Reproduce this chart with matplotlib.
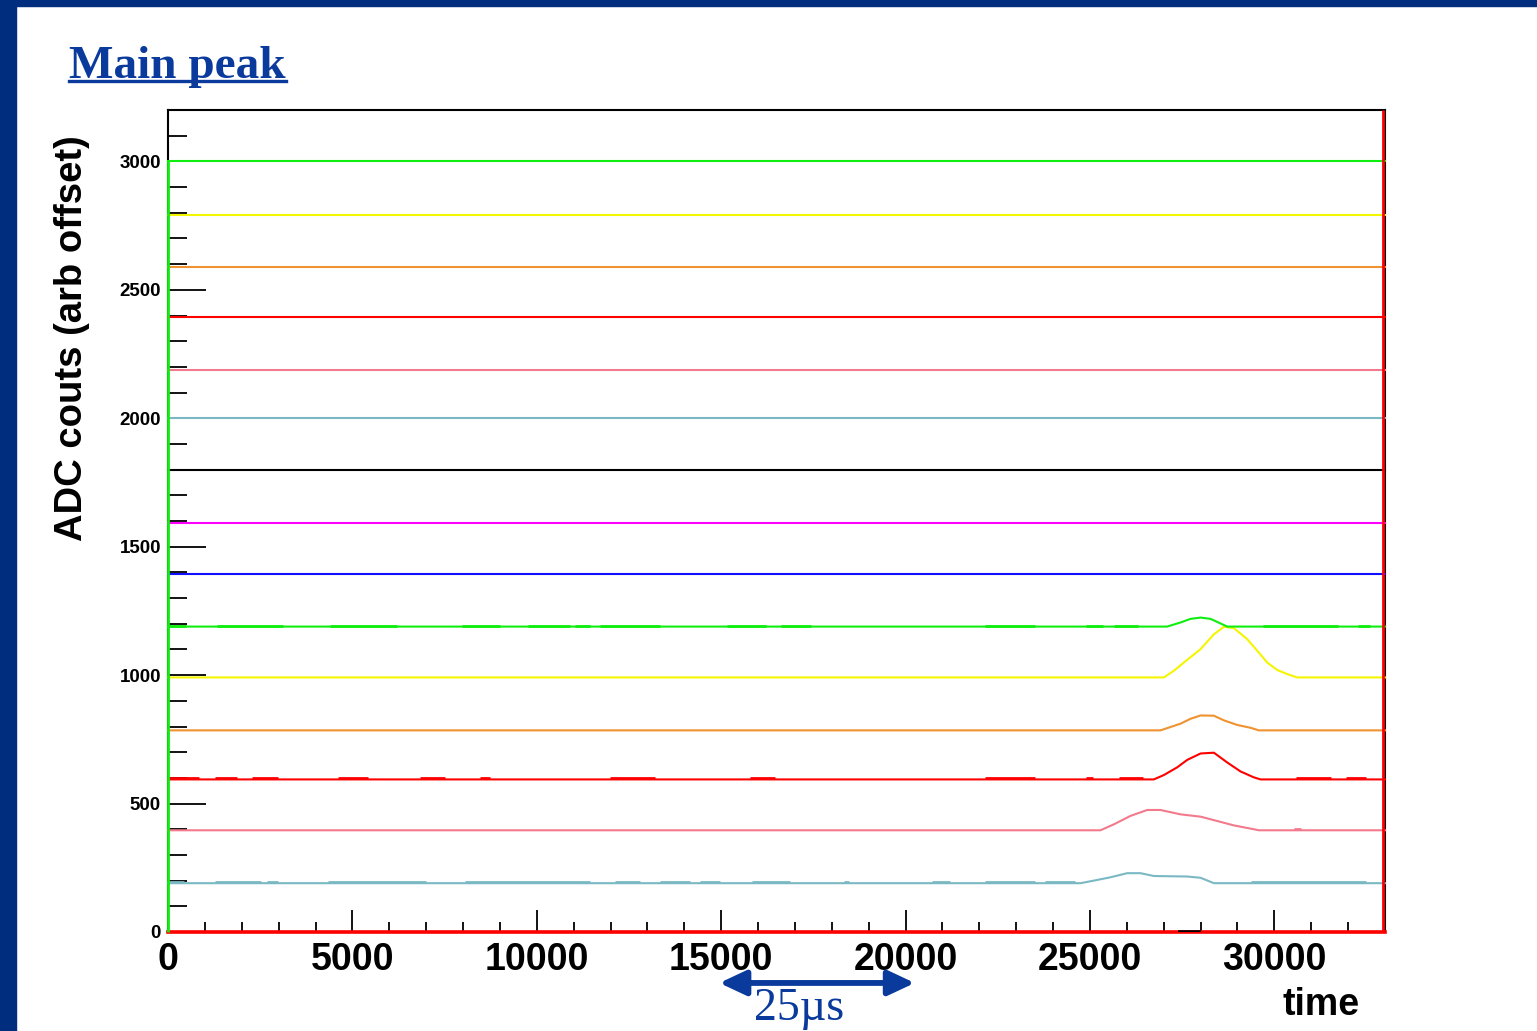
import numpy as np
import matplotlib.pyplot as plt
from matplotlib.ticker import MultipleLocator
from matplotlib.patches import Rectangle
from matplotlib.lines import Line2D

t_max = 33000
y_max = 3200

# pedestal of every channel after the offset, bottom to top
baselines = [0, 190, 396, 594, 785, 991, 1189, 1395, 1593, 1799, 2001, 2187, 2393, 2587, 2793, 3000]
colors = ['#ff0000', '#7ab9c4', '#f27a8c', '#ff0000', '#f0922f', '#f5f500', '#10ee10', '#1010ff',
          '#ff00ff', '#000000', '#7ab9c4', '#f27a8c', '#ff0000', '#f0922f', '#f5f500', '#10ee10']

# pulse shapes: time and counts above pedestal
cyan_t = [24743, 25104, 25556, 26009, 26371, 26731, 27637, 28000, 28360]
cyan_dy = [0, 10, 23, 39, 39, 28, 26, 21, 0]
pink_t = [25285, 25646, 26099, 26552, 26913, 27456, 28000, 28451, 28902, 29444, 29580]
pink_dy = [0, 23, 56, 79, 79, 62, 53, 36, 19, 4, 0]
red_t = [26731, 27003, 27365, 27637, 28000, 28360, 28722, 29083, 29444, 29625]
red_dy = [0, 17, 47, 76, 101, 104, 66, 31, 8, 0]
orange_t = [26913, 27184, 27456, 27727, 28000, 28360, 28631, 28993, 29354, 29580]
orange_dy = [0, 13, 26, 45, 58, 57, 39, 21, 10, 0]
yellow_t = [27003, 27275, 27545, 27998, 28360, 28631, 28902, 29264, 29535, 29807, 30078, 30350, 30621]
yellow_dy = [0, 26, 58, 110, 168, 197, 192, 149, 104, 58, 29, 13, 0]
green_t = [27093, 27456, 27727, 28000, 28270, 28541, 28722]
green_dy = [0, 16, 30, 35, 30, 12, 0]

# stretches where the pedestal flickers by one count
busy_cyan = [(0, 434), (1275, 2523), (2686, 2984), (4341, 6999), (8057, 11449), (12128, 12806),
             (13347, 14161), (14432, 14975), (15844, 16875), (18341, 18476), (20729, 21217),
             (22166, 23522), (23793, 24607), (29355, 32475)]
busy_pink = [(30530, 30710)]
busy_red = [(0, 841), (1275, 1872), (2279, 2984), (4612, 5426), (6837, 7515), (8464, 8735),
            (11992, 13212), (15790, 16468), (22166, 23522), (24885, 25075), (25780, 26431),
            (30575, 31525), (31932, 32475)]
busy_green = [(0, 488), (1329, 3120), (4395, 6214), (7976, 9007), (9767, 10906), (11042, 11449),
              (11720, 13347), (15171, 16202), (16609, 17423), (22166, 23522), (24885, 25346),
              (25644, 26295), (29690, 31725), (32267, 32593)]

pulses = {1: (cyan_t, cyan_dy), 2: (pink_t, pink_dy), 3: (red_t, red_dy),
          4: (orange_t, orange_dy), 5: (yellow_t, yellow_dy), 6: (green_t, green_dy)}
busy = {1: busy_cyan, 2: busy_pink, 3: busy_red, 6: busy_green}

navy = '#002d7e'
blue = '#0a3a9c'

fig = plt.figure(figsize=(15.37, 10.31), dpi=100)
fig.patches.append(Rectangle((0, 1 - 6/1031), 1, 6/1031, transform=fig.transFigure, color=navy, zorder=0))
fig.patches.append(Rectangle((0, 0), 16/1537, 1, transform=fig.transFigure, color=navy, zorder=0))

ax = fig.add_axes([168/1537, 1 - 932/1031, 1217/1537, 822/1031])

for i, (base, c) in enumerate(zip(baselines, colors)):
    if i in pulses:
        pt, pdy = pulses[i]
        x = [0] + pt + [t_max]
        y = [base] + [base + d for d in pdy] + [base]
    else:
        x = [0, t_max]
        y = [base, base]
    lw = 2.6 if i == 0 else 1.5
    ax.plot(x, y, color=c, lw=lw, clip_on=False, zorder=3)
    for t0, t1 in busy.get(i, []):
        ax.hlines(base + 4, t0, t1, color=c, lw=2.0, zorder=3)

# histogram edges at the borders of the frame
ax.vlines(0, 0, baselines[-1], color=colors[-1], lw=2, clip_on=False, zorder=4)
ax.vlines(t_max - 60, 0, y_max, color=colors[0], lw=2, clip_on=False, zorder=4)
# bottom trace dips below zero here, the frame shows through
ax.hlines(0, 27400, 28000, color='black', lw=2.6, zorder=4)

ax.set_xlim(0, t_max)
ax.set_ylim(0, y_max)
for s in ax.spines.values():
    s.set_linewidth(1.5)

ax.xaxis.set_major_locator(MultipleLocator(5000))
ax.xaxis.set_minor_locator(MultipleLocator(1000))
ax.yaxis.set_major_locator(MultipleLocator(500))
ax.yaxis.set_minor_locator(MultipleLocator(100))
ax.set_xticks(np.arange(0, 30001, 5000))
ax.tick_params(direction='in', width=1.3, top=False, right=False, which='both')
ax.tick_params(axis='x', which='major', length=16, pad=7, labelsize=27)
ax.tick_params(axis='x', which='minor', length=7.5)
ax.tick_params(axis='y', which='major', length=27, pad=5, labelsize=13.5)
ax.tick_params(axis='y', which='minor', length=13.5)
for lab in ax.get_xticklabels() + ax.get_yticklabels():
    lab.set_fontweight('bold')
    lab.set_family('Liberation Sans')

fig.text(72/1537, 1 - 338/1031, 'ADC couts (arb offset)', rotation=90, ha='center', va='center',
         fontsize=27.5, fontweight='bold', family='Liberation Sans')
fig.text(1360/1537, 1 - 1005/1031, 'time', ha='right', va='center',
         fontsize=27, fontweight='bold', family='Liberation Sans')

title = fig.text(69/1537, 1 - 78/1031, 'Main peak', ha='left', va='baseline', fontsize=34,
                 fontweight='bold', family='Liberation Serif', color=blue)
fig.canvas.draw()
bb = title.get_window_extent()
W, H = fig.bbox.width, fig.bbox.height
fig.add_artist(Line2D([bb.x0 / W, bb.x1 / W], [1 - 81/1031] * 2, transform=fig.transFigure,
                      color=blue, lw=2.4))

# 25 us scale marker under the time axis
ax.annotate('', xy=(14950, -0.062), xytext=(20250, -0.062), xycoords=('data', 'axes fraction'),
            textcoords=('data', 'axes fraction'), annotation_clip=False,
            arrowprops=dict(arrowstyle='<|-|>,head_length=1.6,head_width=0.75', color=blue, lw=4.2,
                            shrinkA=0, shrinkB=0))
ax.text(17100, -0.093, '25µs', transform=ax.get_xaxis_transform(), ha='center', va='center',
        fontsize=33, family='Liberation Serif', color=blue, clip_on=False)

plt.savefig('out.png', dpi=100)
